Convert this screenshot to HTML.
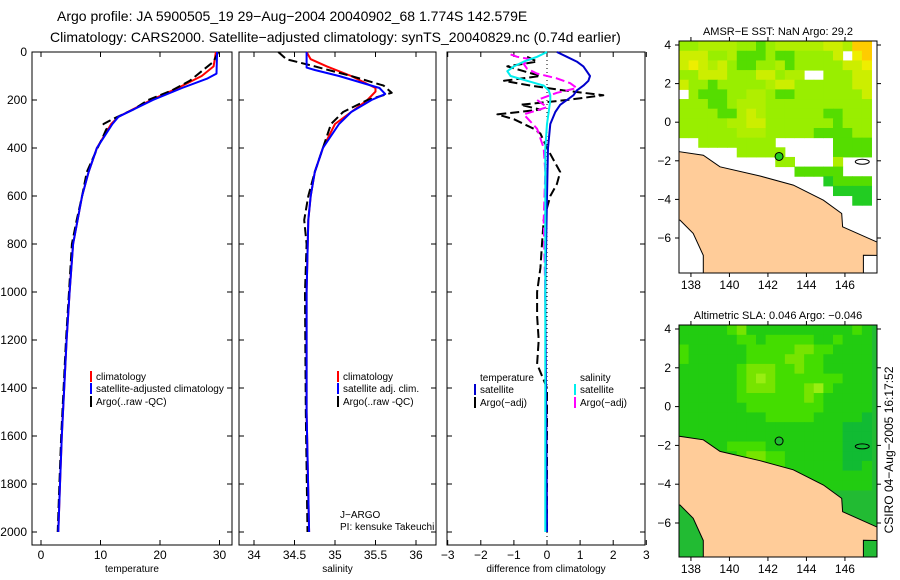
<!DOCTYPE html>
<html><head><meta charset="utf-8">
<style>
html,body{margin:0;padding:0;background:#fff;}
svg{display:block;font-family:"Liberation Sans",sans-serif;}
</style></head>
<body>
<svg id="fig" width="900" height="580" viewBox="0 0 900 580" xmlns="http://www.w3.org/2000/svg">
<text x="57" y="21" font-size="14">Argo profile: JA 5900505_19 29−Aug−2004 20040902_68 1.774S 142.579E</text>
<text x="50" y="42" font-size="14">Climatology: CARS2000. Satellite−adjusted climatology: synTS_20040829.nc (0.74d earlier)</text>
<text transform="translate(893,450) rotate(-90)" text-anchor="middle" font-size="12">CSIRO 04−Aug−2005 16:17:52</text>
</svg>
<script>
// ---------- profile data ----------
const tDepthClim = [0,60,100,150,200,270,300,400,500,600,800,1000,1200,1400,1600,1800,2000];
const tClim      = [29.4,29.0,27.0,23.0,18.5,13.0,11.8,9.4,8.0,6.9,5.4,4.8,4.3,3.9,3.5,3.2,2.9];
const tDepthSat  = [0,90,110,150,200,270,300,400,500,600,800,1000,1200,1400,1600,1800,2000];
const tSat       = [29.6,29.5,28.0,23.7,18.8,13.0,12.0,9.4,8.0,6.9,5.4,4.8,4.3,3.9,3.5,3.2,2.9];
const tDepthArgo = [0,40,80,120,160,200,240,280,300,320,360,400,500,600,700,800,1000,1200,1400,1600,1800,2000];
const tArgo      = [29.8,29.0,27.0,25.0,22.0,18.0,15.5,12.0,10.5,11.0,10.3,9.5,7.7,6.9,6.0,5.2,4.7,4.2,3.8,3.4,3.1,2.8];

const sDepthClim = [0,30,60,100,150,165,200,250,300,400,500,600,700,1000,1500,2000];
const sClim      = [34.65,34.7,34.9,35.2,35.5,35.5,35.4,35.2,35.0,34.85,34.75,34.7,34.67,34.65,34.65,34.68];
const sDepthSat  = [0,65,75,100,150,175,200,250,300,400,500,600,700,1000,1500,2000];
const sSat       = [34.65,34.65,34.75,35.05,35.55,35.62,35.45,35.2,35.05,34.85,34.75,34.7,34.67,34.65,34.65,34.68];
const sDepthArgo = [0,30,60,100,140,170,200,250,300,400,500,600,700,800,1000,1500,2000];
const sArgo      = [34.3,34.4,34.75,35.2,35.6,35.7,35.4,35.1,34.95,34.85,34.75,34.67,34.62,34.65,34.63,34.64,34.66];

const dDepthTSat = [0,20,40,60,80,100,120,140,160,180,200,220,250,300,400,600,1000,2000];
const dTSat      = [0.3,0.6,0.9,1.1,1.2,1.3,1.25,1.1,0.9,0.8,0.6,0.4,0.25,0.1,0.03,0,-0.05,0];
const dDepthSSat = [0,20,40,60,80,100,120,140,160,180,200,250,300,400,1000,2000];
const dSSat      = [0,-0.3,-0.7,-1.0,-1.2,-1.1,-0.6,-0.1,0.05,0.1,0.1,0.05,0,-0.05,-0.05,-0.05];
const dDepthSArgo= [10,20,30,50,70,90,110,130,150,170,200,230,260,290,320,360,400,500,700,1000,2000];
const dSArgo     = [-1.1,-0.9,-0.5,-0.7,-0.6,-0.3,0.3,0.7,0.9,0.3,-0.3,0,-0.7,-0.5,-0.3,-0.2,-0.1,-0.05,-0.1,-0.05,0];
const dDepthTArgo= [20,40,60,80,100,120,140,160,180,200,220,240,260,280,300,320,340,400,500,550,600,700,800,900,1000,1100,1200,1300,1400,1600,2000];
const dTArgo     = [-0.6,-0.3,-1.2,-0.7,-0.2,-1.3,-0.5,0.5,1.7,0.6,-0.8,-0.2,-1.5,-1.0,-0.7,-0.4,-0.2,0,0.4,0.3,0.1,-0.1,-0.15,-0.2,-0.3,-0.3,-0.25,-0.3,0,0,0];

const depthTicks = [0,200,400,600,800,1000,1200,1400,1600,1800,2000];
const tTicks = [0,10,20,30];
const sTicks = [34,34.5,35,35.5,36];
const dTicks = [-3,-2,-1,0,1,2,3];

// ---------- map data ----------
const sstRows = [
"hhgggghhGhgggggyygoo",
"yyyhhgGGGhGGhhhhy.Yo",
"yYygyhGGhhgGhhhhhyyY",
"hhyyyhhhyyhgg..hhhyy",
"yhhGhhhhhgyyhhhhhhyy",
".hGGGhhgghGGhhhhhhhy",
"hhhGGhggghhhhhhhhhhh",
"hhhhGGgyghhhhhhGGhhh",
"hhhhhggyyhhhhhhhGhhh",
"hhhhhhggghhhhhGGGGhh",
"..hhhhhhhh......GGGG",
"......hhhhh.....GGGG",
"..........hh....g...",
"............GGGGG...",
"...............dGGGG",
"................dddd",
"..................dd"];
const slaRows = [
"BBBBBCEBBBBBBBBBBBCB",
"BBBBBBCCBCCCCCBBCBBB",
"CBBBBBBCCCCCEECCBBBB",
"CBBBBBBCCCCEECCBBBBB",
"BBBBBBCEEECCECCBBBBB",
"BBBBBBCEFECCCCCCCBBB",
"BBBBBBCEEECCCEFCBBBB",
"BBBBBBCCCCCCCECBBBBB",
"BBBBBBBCCCCCCCCBBBBB",
"BBBBBBBBBCCCCCBBBBBA",
"BBBBBBBBBBBBBBBBBAAA",
"BBBBBBBBBBBBBBBBBAAA",
"BBBBBCCCCBBBBBBBBAAA",
"BBBBBBCEECCBBBBBBAAA",
"BBBBBBBCCCCBBBBBBAAB",
"BBBBBBBBBBBBBBBBBBBB",
"BBBBBBBBBBBBBBBBBBBB"];
const landLon = [137.38,137.4,138.64,139.51,141.59,143.32,144.88,145.83,145.88,147.65,147.75,147.75,146.96,146.96,138.64,138.64,138.12,137.43,137.38];
const landLat = [-1.5,-1.53,-1.71,-2.31,-2.79,-3.26,-4.04,-4.73,-5.42,-6.2,-6.2,-6.9,-6.89,-7.85,-7.85,-6.9,-5.76,-5.07,-5.07];
const argoLon = 142.579, argoLat = -1.774;
const lonTicks = [138,140,142,144,146];
const latTicks = [4,2,0,-2,-4,-6];

const svg = document.getElementById('fig');
const NS = 'http://www.w3.org/2000/svg';
function mk(tag, attrs, parent){
  const e = document.createElementNS(NS, tag);
  for (const k in attrs) e.setAttribute(k, attrs[k]);
  (parent||svg).appendChild(e);
  return e;
}
function txt(x,y,s,size,anchor,parent){
  const t = mk('text',{x:x,y:y,'font-size':size,'text-anchor':anchor||'start'},parent);
  t.textContent = s;
  return t;
}

const Y0 = 52, YS = 0.24, TOP = 52, BOT = 545;
const yD = d => Y0 + d*YS;

function panel(name, x0, x1, xf, ticks, tickFmt, xTitle, showY){
  const g = mk('g',{});
  
  
  mk('rect',{x:x0,y:TOP,width:x1-x0,height:BOT-TOP,fill:'#fff',stroke:'#000','stroke-width':1},g);
  depthTicks.forEach(d=>{
    mk('line',{x1:x0,x2:x0+5,y1:yD(d),y2:yD(d),stroke:'#000'},g);
    mk('line',{x1:x1-5,x2:x1,y1:yD(d),y2:yD(d),stroke:'#000'},g);
    if (showY){
      const t = txt(x0-5,yD(d)+4,String(d),12,'end',g);
      
      
    }
  });
  ticks.forEach(v=>{
    const x = xf(v);
    mk('line',{x1:x,x2:x,y1:TOP,y2:TOP+5,stroke:'#000'},g);
    mk('line',{x1:x,x2:x,y1:BOT-5,y2:BOT,stroke:'#000'},g);
    const t = txt(x,559,tickFmt(v),12,'middle',g);
    
    
  });
  const tt = txt((x0+x1)/2,572,xTitle,10,'middle',g);
  
  
  return g;
}
function series(g, name, depths, vals, xf, color, dashed){
  const pts = depths.map((d,i)=>xf(vals[i]).toFixed(1)+','+yD(d).toFixed(1)).join(' ');
  const p = mk('polyline',{points:pts,fill:'none',stroke:color,'stroke-width':2,'stroke-linejoin':'round'},g);
  if (dashed) p.setAttribute('stroke-dasharray','9,4');
  
  
}
function legend(g, x, y, color, label, name){
  if (color) mk('rect',{x:x,y:y-9,width:2,height:11,fill:color},g);
  const t = txt(x+6,y,label,10,'start',g);
  
  
}

// Panel 1: temperature
const xT = v => 41 + v*5.95;
const g1 = panel('temperature-panel',32,232,xT,tTicks,v=>String(v),'temperature',true);
series(g1,'temp-climatology-line',tDepthClim,tClim,xT,'#ff0000');
series(g1,'temp-argo-line',tDepthArgo,tArgo,xT,'#000000',true);
series(g1,'temp-satellite-line',tDepthSat,tSat,xT,'#0000ff');
legend(g1,90,380,'#ff0000','climatology','legend-climatology');
legend(g1,90,392,'#0000ff','satellite-adjusted climatology','legend-satellite');
legend(g1,90,405,'#000000','Argo(..raw -QC)','legend-argo');

// Panel 2: salinity
const xS = v => 254 + (v-34)*81;
const g2 = panel('salinity-panel',239,436,xS,sTicks,v=>String(v),'salinity',false);
series(g2,'sal-climatology-line',sDepthClim,sClim,xS,'#ff0000');
series(g2,'sal-argo-line',sDepthArgo,sArgo,xS,'#000000',true);
series(g2,'sal-satellite-line',sDepthSat,sSat,xS,'#0000ff');
legend(g2,337,380,'#ff0000','climatology','legend-climatology');
legend(g2,337,392,'#0000ff','satellite adj. clim.','legend-satellite');
legend(g2,337,405,'#000000','Argo(..raw -QC)','legend-argo');
const ja = txt(340,518,'J−ARGO',10,'start',g2);


const pi = txt(340,530,'PI: kensuke Takeuchi',10,'start',g2);



// Panel 3: differences
const xDf = v => 547 + v*33.1;
const g3 = panel('difference-panel',447,645,xDf,dTicks,v=>v<0?'−'+Math.abs(v):String(v),'difference from climatology',false);
mk('line',{x1:xDf(0),x2:xDf(0),y1:TOP,y2:BOT,stroke:'#000','stroke-dasharray':'1,3'},g3);
series(g3,'diff-temp-argo-line',dDepthTArgo,dTArgo,xDf,'#000000',true);
series(g3,'diff-sal-argo-line',dDepthSArgo,dSArgo,xDf,'#ff00ff',true);
series(g3,'diff-temp-satellite-line',dDepthTSat,dTSat,xDf,'#0000cc');
series(g3,'diff-sal-satellite-line',dDepthSSat,dSSat,xDf,'#00eeee');
legend(g3,474,381,null,'temperature','legend-temperature-header');
legend(g3,474,393,'#0000cc','satellite','legend-temp-satellite');
legend(g3,474,406,'#000000','Argo(−adj)','legend-temp-argo');
legend(g3,574,381,null,'salinity','legend-salinity-header');
legend(g3,574,393,'#00eeee','satellite','legend-sal-satellite');
legend(g3,574,406,'#ff00ff','Argo(−adj)','legend-sal-argo');

// ---------- maps ----------
const MX0 = 679, MX1 = 877, LON0 = 137.38, LONS = 19.25;
const mxf = lon => MX0 + (lon-LON0)*LONS;
function map(name, top, bot, latRef, latS, rows, palette, bg, title, dotFill){
  const g = mk('g',{});
  
  
  const myf = lat => latRef + (4-lat)*latS;
  const clipId = name+'-clip';
  const cp = mk('clipPath',{id:clipId},g);
  mk('rect',{x:MX0,y:top,width:MX1-MX0,height:bot-top},cp);
  const inner = mk('g',{'clip-path':'url(#'+clipId+')'},g);
  mk('rect',{x:MX0,y:top,width:MX1-MX0,height:bot-top,fill:bg},inner);
  rows.forEach((r,ri)=>{
    for (let ci=0; ci<r.length; ci++){
      const c = palette[r[ci]];
      if (!c) continue;
      const lonA = LON0 + ci*0.5, latA = 4.2 - ri*0.5;
      const cell = mk('rect',{x:mxf(lonA),y:myf(latA),width:0.5*LONS+0.5,height:0.5*latS+0.5,fill:c},inner);
      
      
    }
  });
  const pts = landLon.map((lo,i)=>mxf(lo).toFixed(1)+','+myf(landLat[i]).toFixed(1)).join(' ');
  const land = mk('polygon',{points:pts,fill:'#ffcc99',stroke:'#000','stroke-width':1},inner);
  
  
  const isl = mk('ellipse',{cx:mxf(146.9),cy:myf(-2.05),rx:7,ry:2.5,fill:'none',stroke:'#000'},inner);
  
  
  const dot = mk('circle',{cx:mxf(argoLon),cy:myf(argoLat),r:4,fill:dotFill,stroke:'#000'},inner);
  
  
  mk('rect',{x:MX0,y:top,width:MX1-MX0,height:bot-top,fill:'none',stroke:'#000'},g);
  lonTicks.forEach(lo=>{
    const x = mxf(lo);
    mk('line',{x1:x,x2:x,y1:top-4,y2:top,stroke:'#000'},g);
    mk('line',{x1:x,x2:x,y1:bot,y2:bot+4,stroke:'#000'},g);
    const t = txt(x,bot+16,String(lo),12,'middle',g);
    
    
  });
  latTicks.forEach(la=>{
    const y = myf(la);
    mk('line',{x1:MX0-4,x2:MX0,y1:y,y2:y,stroke:'#000'},g);
    mk('line',{x1:MX1,x2:MX1+4,y1:y,y2:y,stroke:'#000'},g);
    const t = txt(MX0-8,y+4,la<0?'−'+Math.abs(la):String(la),12,'end',g);
    
    
  });
  const tt = txt((MX0+MX1)/2,top-6,title,11,'middle',g);
  
  
}
const sstPal = {o:'#ffcc00',Y:'#eeee00',y:'#ccee00',g:'#b0ee00',h:'#99ee00',G:'#55dd00',d:'#22cc22'};
const slaPal = {A:'#11bb33',B:'#22cc11',C:'#44dd00',E:'#77e400',F:'#99ee11'};
map('sst-map',41,273,45,19.3,sstRows,sstPal,'#ffffff','AMSR−E SST: NaN Argo: 29.2','#22cc22');
map('sla-map',325,557,329,19.4,slaRows,slaPal,'#22bb33','Altimetric SLA: 0.046 Argo: −0.046','#22bb33');
</script>
</body></html>
